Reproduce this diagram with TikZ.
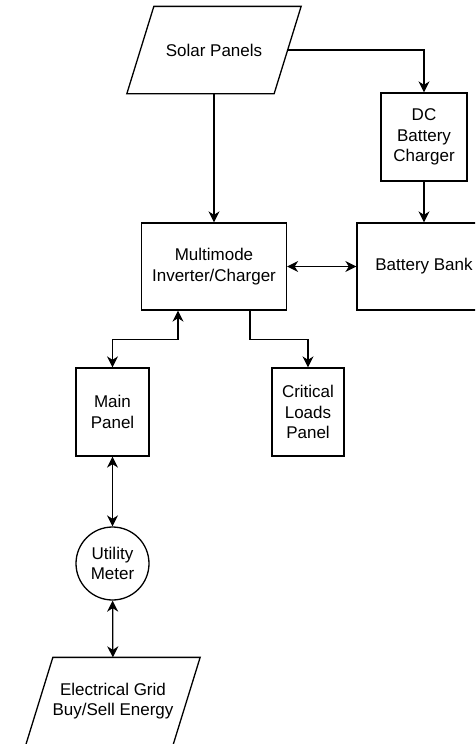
\documentclass[tikz,border=0pt]{standalone}
\usepackage{fontspec}
\setmainfont{Liberation Sans}
\usetikzlibrary{arrows.meta}

\begin{document}
\begin{tikzpicture}[x=1pt, y=-1pt, line width=1.3pt,
		>={Stealth[length=11pt, width=11pt, inset=3.5pt]},
		every node/.style = {font=\fontsize{17}{20.5}\selectfont, align=center, inner sep=0pt},
		box/.style args = {#1/#2}{%
			rectangle, draw, minimum width=#1, minimum height=#2},
		io/.style = {rectangle, minimum width=146, minimum height=86},
		meter/.style = {circle, draw, minimum size=73}
		]
		\useasboundingbox (0,0) rectangle (475,744);
		\clip (0,0) rectangle (475,744);
		\node (n1) [io] at (214,50) {Solar Panels};
		\node (n2) [box=145/87] at (214,266.5) {Multimode\\Inverter/Charger};
		\node (n3) [box=134/87] at (424,266.5) {Battery Bank};
		\node (n4) [box=86/88] at (424,137) {DC\\Battery\\Charger};
		\node (n5) [box=73/88] at (112.5,412) {Main\\Panel};
		\node (n6) [box=72/88] at (308,412) {Critical\\Loads\\Panel};
		\node (n7) [meter] at (112.5,563.5) {Utility\\Meter};
		\node (n8) [io] at (113,701) {Electrical Grid\\Buy/Sell Energy};
		% slanted outlines of the two input/output nodes
		\foreach \n in {n1, n8}
		\draw ([xshift=13.5pt]\n.north west) -- ([xshift=13.5pt]\n.north east)
			-- ([xshift=-13.5pt]\n.south east) -- ([xshift=-13.5pt]\n.south west) -- cycle;
		\draw[->] (n1) -| (n4);
		\foreach \from/\to in {n1/n2, n4/n3}
		\draw[->] (\from) -- (\to);
		\foreach \from/\to in {n2/n3, n5/n7, n7/n8}
		\draw[<->] (\from) -- (\to);
		\draw[<->] ([xshift=-36pt]n2.south) -- ++(0,29) -| (n5);
		\draw[->] ([xshift=36pt]n2.south) -- ++(0,29) -| (n6);
	\end{tikzpicture}
\end{document}
